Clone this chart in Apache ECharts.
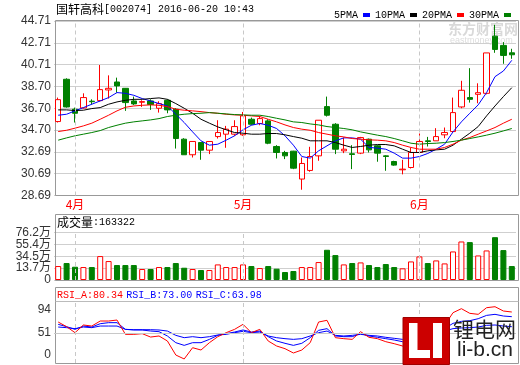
<!DOCTYPE html>
<html><head><meta charset="utf-8">
<script src="https://cdn.jsdelivr.net/npm/echarts/dist/echarts.min.js"></script>
<style>html,body{margin:0;padding:0;background:#fff}#c{width:520px;height:365px}</style>
</head><body><div id="c"></div>
<script>
const dates = ['2016-03-30','2016-03-31','2016-04-01','2016-04-05','2016-04-06','2016-04-07','2016-04-08','2016-04-11','2016-04-12','2016-04-13','2016-04-14','2016-04-15','2016-04-18','2016-04-19','2016-04-20','2016-04-21','2016-04-22','2016-04-25','2016-04-26','2016-04-27','2016-04-28','2016-04-29','2016-05-03','2016-05-04','2016-05-05','2016-05-06','2016-05-09','2016-05-10','2016-05-11','2016-05-12','2016-05-13','2016-05-16','2016-05-17','2016-05-18','2016-05-19','2016-05-20','2016-05-23','2016-05-24','2016-05-25','2016-05-26','2016-05-27','2016-05-30','2016-05-31','2016-06-01','2016-06-02','2016-06-03','2016-06-06','2016-06-07','2016-06-08','2016-06-13','2016-06-14','2016-06-15','2016-06-16','2016-06-17','2016-06-20'];
const opens = [35.48,39.36,36.61,36.73,37.35,37.40,38.38,39.11,38.53,37.37,37.25,37.37,36.70,37.43,36.61,33.86,32.43,33.55,32.85,34.10,34.32,34.32,34.26,35.69,35.30,35.54,33.19,32.64,32.76,30.20,30.99,32.33,36.85,35.23,32.79,32.52,32.58,33.86,33.25,32.33,31.81,31.05,31.26,32.64,33.71,33.71,34.26,34.56,36.82,37.68,37.98,38.07,43.32,42.47,41.79];
const closes = [37.49,36.82,36.24,37.68,37.30,38.41,38.53,38.75,37.22,37.10,37.31,37.04,37.13,36.55,33.92,32.43,33.65,32.85,33.65,34.47,34.78,35.02,36.00,35.23,35.75,33.49,32.64,32.33,31.20,31.63,32.27,35.60,36.06,32.94,32.94,32.46,34.01,32.88,32.58,32.27,31.48,31.11,32.64,33.65,33.65,34.10,34.47,36.30,38.35,37.52,38.13,41.78,42.10,41.55,41.61];
const lows = [35.39,36.76,35.39,36.67,37.03,37.34,37.59,38.13,36.46,37.00,36.82,36.55,36.30,36.24,33.00,32.43,32.18,31.97,32.49,33.92,33.07,34.17,34.17,35.14,35.14,33.40,32.09,32.03,31.11,29.22,30.87,31.88,35.94,32.49,32.58,31.11,32.49,32.64,31.79,30.96,31.42,30.63,31.17,32.58,33.19,33.71,33.95,34.47,36.70,37.22,37.16,37.98,41.79,40.78,41.24];
const highs = [37.68,39.45,36.76,38.07,37.52,40.67,39.72,39.51,38.56,37.77,37.43,37.52,37.34,37.52,36.70,33.95,33.65,33.55,33.65,35.60,35.08,35.60,36.36,35.84,35.99,35.69,33.31,32.79,32.79,32.18,33.16,35.60,37.77,35.33,34.01,33.31,34.07,33.92,33.31,32.39,31.88,31.97,33.07,34.38,34.07,34.87,34.93,37.68,39.22,40.38,38.99,41.78,44.36,42.77,42.16];
const ma5 = [36.06,36.15,36.46,36.76,37.07,37.37,37.68,38.14,38.07,37.89,37.59,37.37,37.13,36.91,36.15,35.39,34.53,33.71,33.31,33.40,33.77,34.17,34.72,35.14,35.30,35.14,34.84,34.17,33.31,32.27,32.12,32.79,33.25,33.71,33.98,33.98,33.86,33.10,33.04,32.94,32.58,32.12,32.12,32.27,32.55,32.94,33.40,34.53,35.45,36.24,37.01,38.14,39.60,40.12,41.10];
const ma10 = [36.55,36.55,36.49,36.52,36.67,36.76,37.07,37.28,37.43,37.52,37.52,37.59,37.65,37.52,37.13,36.70,36.24,35.69,35.33,34.99,34.72,34.47,34.41,34.32,34.32,34.38,34.38,34.26,34.10,33.95,33.71,33.71,33.71,33.55,33.31,33.10,33.19,33.31,33.37,33.37,33.25,32.94,32.64,32.64,32.79,32.88,32.94,33.31,33.86,34.41,35.02,36.00,36.91,37.77,38.59];
const ma20 = [34.56,34.68,34.87,35.08,35.33,35.69,36.06,36.46,36.79,36.91,36.97,37.01,36.97,36.85,36.61,36.52,36.46,36.39,36.30,36.24,36.15,36.09,36.06,36.00,35.94,35.69,35.45,35.17,34.93,34.78,34.68,34.47,34.32,34.17,34.07,33.92,33.86,33.80,33.77,33.71,33.55,33.31,33.10,32.94,32.94,32.94,33.10,33.40,33.77,34.01,34.32,34.62,34.93,35.33,35.69];
const ma30 = [33.77,33.98,34.17,34.32,34.47,34.65,34.93,35.14,35.33,35.45,35.54,35.63,35.75,35.94,36.06,36.15,36.21,36.24,36.30,36.24,36.18,36.12,36.09,36.06,36.06,35.94,35.78,35.63,35.45,35.39,35.26,35.17,35.02,34.93,34.84,34.72,34.53,34.38,34.23,34.10,33.92,33.71,33.49,33.40,33.46,33.49,33.55,33.65,33.77,33.92,34.07,34.23,34.41,34.62,34.84];
const volumes = [22.4,27.2,21.3,20.8,20.8,38.4,30.4,24.0,24.0,24.0,17.6,17.6,20.8,20.8,27.2,19.7,17.6,16.0,16.0,25.0,20.8,20.8,25.0,22.4,19.2,22.4,18.1,12.8,14.4,20.8,20.8,28.8,48.5,40.0,25.0,27.2,28.2,24.0,20.8,25.6,20.8,18.7,29.8,37.8,27.2,31.4,26.6,45.8,61.8,60.8,39.4,47.4,68.7,48.0,22.4];
const rsiA = [70.4,62.4,52.1,65.3,63.5,72.1,72.1,73.8,49.2,49.2,50.4,44.6,46.4,37.8,13.7,6.9,26.3,22.3,34.9,45.2,52.1,57.8,66.4,52.1,57.8,37.8,29.2,24.6,17.2,22.3,34.9,70.4,73.3,43.5,41.8,40.6,53.8,44.1,41.8,36.6,33.2,29.2,43.5,52.1,53.2,60.7,64.7,86.4,93.3,85.3,83.6,95.0,96.7,89.3,87.6];
const rsiB = [66.4,62.4,57.8,63.5,61.8,67.5,69.3,69.3,57.8,56.7,56.7,54.9,53.8,46.4,34.9,30.3,34.9,34.9,40.6,47.5,50.4,53.2,56.7,53.2,54.9,45.2,37.8,33.8,30.3,33.8,43.5,56.1,59.0,46.4,45.2,45.2,50.4,46.4,44.1,41.8,39.5,36.6,43.5,49.2,50.9,54.9,59.0,68.1,71.5,72.7,76.1,81.8,83.6,80.7,79.6];
const rsiC = [61.8,60.7,59.0,61.8,60.7,63.5,63.5,63.5,57.8,57.2,57.2,57.2,56.7,54.9,47.5,43.5,45.2,43.5,45.2,48.1,49.2,52.1,54.4,52.1,53.2,46.4,43.5,41.8,40.6,41.8,46.4,52.1,54.9,47.5,46.4,47.5,49.2,47.5,46.4,44.1,42.4,40.6,45.2,48.1,49.2,52.1,54.9,59.0,60.1,60.7,61.8,64.7,65.3,63.5,62.4];
const priceTicks = ['28.69','30.69','32.69','34.70','36.70','38.70','40.71','42.71','44.71'];
const volumeTicks = ['0','13.7万','34.5万','55.4万','76.2万'];
const rsiTicks = ['0','51','94'];
const maNames = ['5PMA','10PMA','20PMA','30PMA'];

const RED = '#ff0000', GREEN = '#008000', BLUE = '#0000ff';
const MONO = '"Liberation Mono","DejaVu Sans Mono",monospace';
const CJK = '"Noto Sans CJK SC",sans-serif';
const SANS = '"Liberation Sans",Arial,sans-serif';
const GRIDC = '#cfcfcf', FRAME = '#999';

const up = opens.map((o, i) => closes[i] >= o);
const monthStart = dates.map((d, i) => i > 0 && d.slice(5, 7) !== dates[i - 1].slice(5, 7));
const monthLines = dates.filter((d, i) => monthStart[i]).map(d => ({xAxis: d}));
const vline = () => ({silent: true, symbol: ['none', 'none'], label: {show: false},
  lineStyle: {color: '#c8c8c8', type: [4, 3], width: 1}, data: monthLines.slice(), animation: false});

const L = 54, W = 462;
const hiddenX = (g) => ({type: 'category', gridIndex: g, data: dates, show: false, boundaryGap: true});
const labelY = (g, data, split) => ({type: 'category', gridIndex: g, data: data, boundaryGap: false, position: 'left',
  axisLine: {show: false}, axisTick: {show: false},
  axisLabel: {interval: 0, color: '#333', fontSize: 12, fontFamily: SANS + ',' + CJK, margin: 3},
  splitLine: {show: split, interval: 0, lineStyle: {color: GRIDC, width: 1}}});

const chart = echarts.init(document.getElementById('c'));
chart.setOption({
  animation: false,
  backgroundColor: '#fff',
  title: {
    text: '{a|国轩高科}{b|[002074] 2016-06-20 10:43}', left: 56, top: 3, padding: 0,
    textStyle: {fontWeight: 'normal', rich: {
      a: {fontFamily: CJK, fontSize: 12, fontWeight: 'normal', color: '#000'},
      b: {fontFamily: MONO, fontSize: 10, fontWeight: 'normal', color: '#000'}}}
  },
  legend: {
    data: maNames, right: 4, top: 5, align: 'right', icon: 'rect', itemWidth: 7, itemHeight: 4, itemGap: 5,
    textStyle: {fontFamily: MONO, fontSize: 10, color: '#000'}, selectedMode: false
  },
  grid: [
    {left: L, width: W, top: 21, height: 174.5},
    {left: L, width: W, top: 232.5, height: 47.5},
    {left: L, width: W, top: 301, height: 62},
    {left: L, width: W, top: 310, height: 45}
  ],
  xAxis: [
    {type: 'category', gridIndex: 0, data: dates, boundaryGap: true,
      axisLine: {show: false}, axisTick: {show: false}, splitLine: {show: false},
      axisLabel: {interval: (i) => monthStart[i], formatter: (v) => parseInt(v.slice(5, 7), 10) + '月',
        color: RED, fontSize: 12, fontFamily: CJK, margin: 3}},
    hiddenX(1), hiddenX(2), hiddenX(3)
  ],
  yAxis: [
    {type: 'value', gridIndex: 0, min: 28.69, max: 44.71, show: false},
    labelY(0, priceTicks, true),
    {type: 'value', gridIndex: 1, min: 0, max: 76.2, show: false},
    labelY(1, volumeTicks, true),
    {type: 'value', gridIndex: 2, min: 0, max: 106.5, show: false},
    labelY(3, rsiTicks, false)
  ],
  graphic: [
    {type: 'rect', z: 1, shape: {x: 55.5, y: 20.5, width: 463, height: 175}, style: {fill: 'none', stroke: FRAME, lineWidth: 1}},
    {type: 'rect', z: 1, shape: {x: 55.5, y: 214.5, width: 463, height: 66}, style: {fill: 'none', stroke: FRAME, lineWidth: 1}},
    {type: 'rect', z: 1, shape: {x: 55.5, y: 287.5, width: 463, height: 76}, style: {fill: 'none', stroke: FRAME, lineWidth: 1}},
    {type: 'line', z: 1, shape: {x1: 55.5, y1: 301.5, x2: 518.5, y2: 301.5}, style: {stroke: '#bbb', lineWidth: 1}},
    {type: 'text', z: 1, left: 448, top: 22, style: {text: '东方财富网', font: 'bold 14px ' + CJK, fill: '#d9d9d9'}},
    {type: 'text', z: 1, left: 450, top: 36, style: {text: 'eastmoney.com', font: '9px ' + SANS, fill: '#dcdcdc'}},
    {type: 'text', z: 5, left: 57, top: 216, style: {
      text: '{a|成交量}{b|:163322}',
      rich: {a: {fontFamily: CJK, fontSize: 12, fill: '#000'}, b: {fontFamily: MONO, fontSize: 10, fill: '#000'}}}},
    {type: 'text', z: 5, left: 57, top: 289, style: {
      text: '{a|RSI_A:80.34} {b|RSI_B:73.00} {b|RSI_C:63.98}',
      rich: {a: {fontFamily: MONO, fontSize: 10, fill: RED}, b: {fontFamily: MONO, fontSize: 10, fill: BLUE}}}},
    {type: 'group', z: 20, children: [
      {type: 'rect', z: 20, shape: {x: 403, y: 317.5, width: 46.5, height: 47}, style: {fill: '#cc0000', stroke: '#a00000', lineWidth: 1}},
      {type: 'rect', z: 21, shape: {x: 409, y: 323, width: 8.5, height: 35}, style: {fill: '#fff'}},
      {type: 'rect', z: 21, shape: {x: 409, y: 350, width: 21, height: 8}, style: {fill: '#fff'}},
      {type: 'rect', z: 21, shape: {x: 433, y: 323, width: 9, height: 35}, style: {fill: '#fff'}},
      {type: 'text', z: 21, left: 453, top: 319, style: {text: '锂电网', font: '21px ' + CJK, fill: '#222'}},
      {type: 'text', z: 21, left: 457, top: 340, style: {text: 'li-b.cn', font: '21px ' + SANS, fill: '#222'}}
    ]}
  ],
  series: [
    {type: 'candlestick', xAxisIndex: 0, yAxisIndex: 0, barWidth: 6,
      data: opens.map((o, i) => [o, closes[i], lows[i], highs[i]]),
      itemStyle: {color: '#fff', color0: GREEN, borderColor: RED, borderColor0: GREEN, borderWidth: 1},
      markLine: vline()},
    ...[ma5, ma10, ma20, ma30].map((d, k) => ({
      name: maNames[k], type: 'line', xAxisIndex: 0, yAxisIndex: 0, data: d, showSymbol: false, symbol: 'none',
      color: [BLUE, '#000', RED, GREEN][k], lineStyle: {width: 1, color: [BLUE, '#000', RED, GREEN][k]}, z: 3
    })),
    {type: 'bar', xAxisIndex: 1, yAxisIndex: 2, barWidth: 6,
      data: volumes.map((v, i) => ({value: v, itemStyle: up[i] ? {color: '#fff', borderColor: RED, borderWidth: 1} : {color: GREEN, borderColor: GREEN, borderWidth: 1}})),
      markLine: vline()},
    {type: 'line', xAxisIndex: 2, yAxisIndex: 4, data: rsiA, symbol: 'none', lineStyle: {width: 1, color: RED}, color: RED, z: 4,
      markLine: {silent: true, symbol: ['none', 'none'], label: {show: false}, animation: false,
        data: monthLines.map(m => Object.assign({lineStyle: {color: '#c8c8c8', type: [4, 3], width: 1}}, m)).concat([{yAxis: 51, lineStyle: {color: '#c8c8c8', type: 'solid', width: 1}}])}},
    {type: 'line', xAxisIndex: 2, yAxisIndex: 4, data: rsiB, symbol: 'none', lineStyle: {width: 1, color: BLUE}, color: BLUE, z: 3},
    {type: 'line', xAxisIndex: 2, yAxisIndex: 4, data: rsiC, symbol: 'none', lineStyle: {width: 1, color: BLUE}, color: BLUE, z: 3}
  ]
});
</script></body></html>
